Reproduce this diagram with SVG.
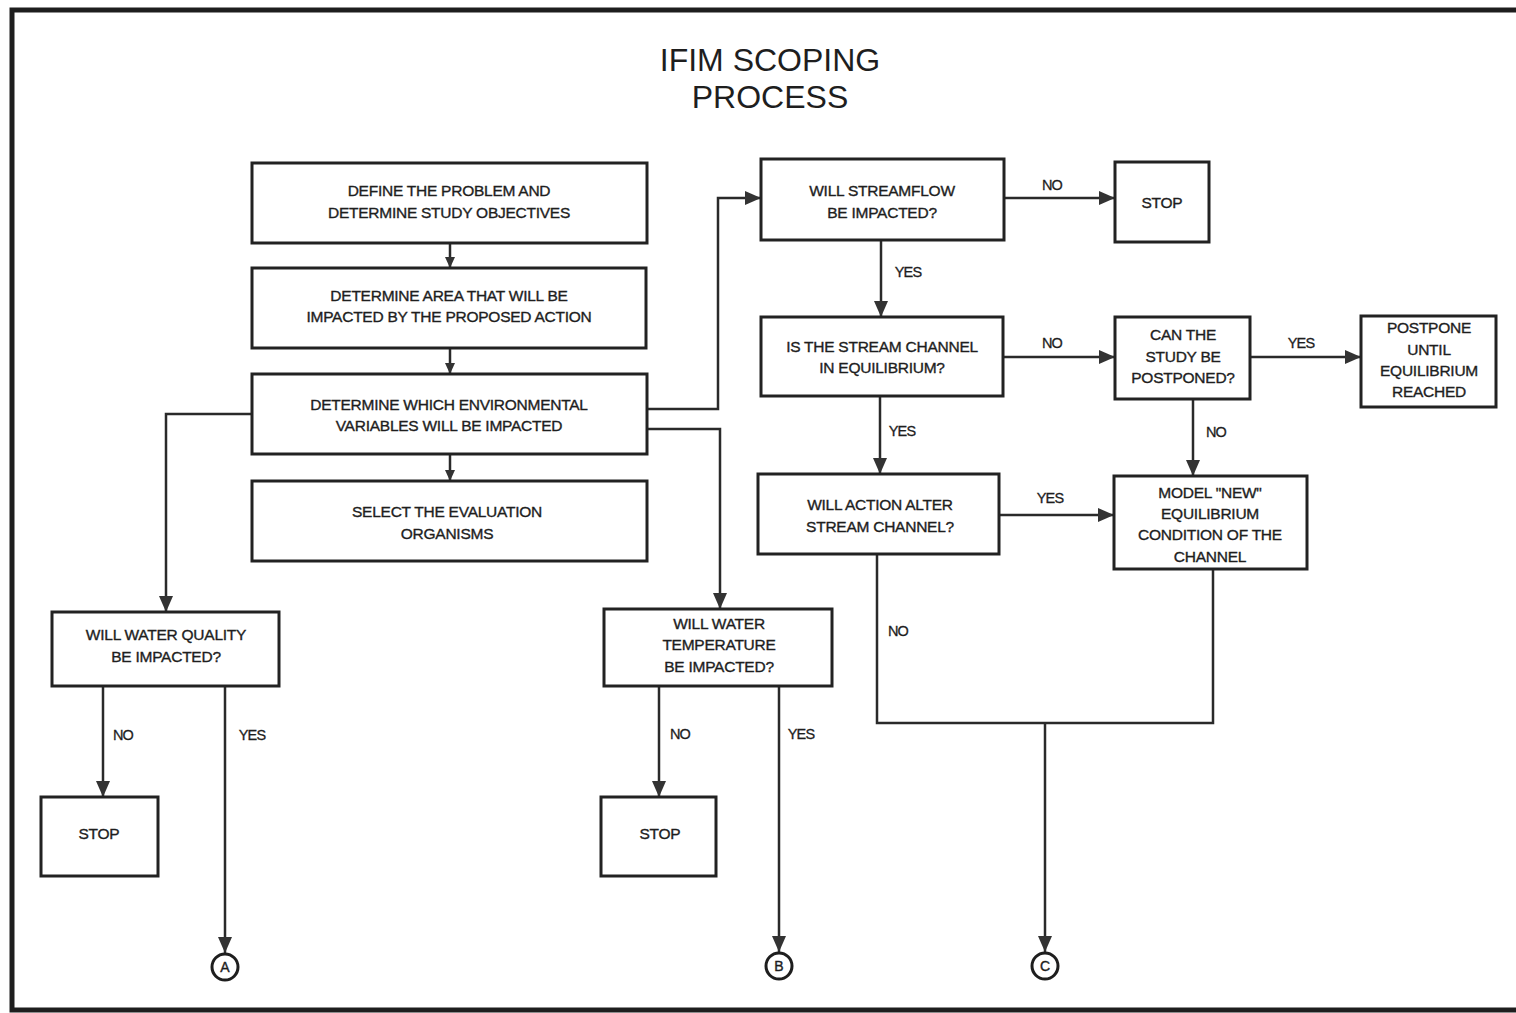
<svg xmlns="http://www.w3.org/2000/svg" width="1516" height="1013" viewBox="0 0 1516 1013">
<defs>
<style>
.frame{fill:none;stroke:#1e1e1e;stroke-width:5}
.box{fill:#fff;stroke:#222;stroke-width:3}
.t{font-family:"Liberation Sans",Arial,sans-serif;font-size:15.5px;fill:#1e1e1e;stroke:#1e1e1e;stroke-width:0.35;text-anchor:middle;letter-spacing:-0.25px}
.lbl{font-family:"Liberation Sans",Arial,sans-serif;font-size:14.5px;fill:#1e1e1e;stroke:#1e1e1e;stroke-width:0.3;text-anchor:middle;letter-spacing:-0.8px}
.title{font-family:"Liberation Sans",Arial,sans-serif;font-size:32px;fill:#1e1e1e;text-anchor:middle}
.c{fill:none;stroke:#2a2a2a;stroke-width:2.5}
.big{marker-end:url(#ab)}
.sm{marker-end:url(#as)}
.circ{fill:#fff;stroke:#1e1e1e;stroke-width:3}
.ct{font-family:"Liberation Sans",Arial,sans-serif;font-size:14px;fill:#1e1e1e;stroke:#1e1e1e;stroke-width:0.4;text-anchor:middle}
</style>
<marker id="ab" markerUnits="userSpaceOnUse" markerWidth="16" markerHeight="14" viewBox="0 0 16 14" refX="16" refY="7" orient="auto">
<path d="M0 0 L16 7 L0 14 Z" fill="#333"/>
</marker>
<marker id="as" markerUnits="userSpaceOnUse" markerWidth="11" markerHeight="10" viewBox="0 0 11 10" refX="11" refY="5" orient="auto">
<path d="M0 0 L11 5 L0 10 Z" fill="#333"/>
</marker>
</defs>
<rect width="1516" height="1013" fill="#fff"/>
<path class="frame" d="M1516 10 H12 V1010 H1516"/>
<g id="title">
<text class="title" x="770" y="71">IFIM SCOPING</text>
<text class="title" x="770" y="108">PROCESS</text>
</g>
<g id="connectors">
<path class="c sm" d="M450 243 V268"/>
<path class="c sm" d="M450 348 V374"/>
<path class="c sm" d="M450 454 V481"/>
<path class="c big" d="M647 409 H718 V198 H761"/>
<path class="c big" d="M647 429 H720 V609"/>
<path class="c big" d="M252 414 H166 V612"/>
<path class="c big" d="M103 686 V797"/>
<path class="c big" d="M225 686 V953"/>
<path class="c big" d="M659 686 V797"/>
<path class="c big" d="M779 686 V952"/>
<path class="c big" d="M1004 198 H1115"/>
<path class="c big" d="M881 240 V317"/>
<path class="c big" d="M1003 357 H1115"/>
<path class="c big" d="M1250 357 H1361"/>
<path class="c big" d="M1193 399 V476"/>
<path class="c big" d="M880 396 V474"/>
<path class="c big" d="M999 515 H1114"/>
<path class="c" d="M877 554 V723 H1213 V569"/>
<path class="c big" d="M1045 723 V952"/>
<text class="lbl" x="1052" y="190">NO</text>
<text class="lbl" x="908" y="277">YES</text>
<text class="lbl" x="1052" y="348">NO</text>
<text class="lbl" x="1301" y="348">YES</text>
<text class="lbl" x="1216" y="437">NO</text>
<text class="lbl" x="902" y="436">YES</text>
<text class="lbl" x="1050" y="503">YES</text>
<text class="lbl" x="898" y="636">NO</text>
<text class="lbl" x="123" y="740">NO</text>
<text class="lbl" x="252" y="740">YES</text>
<text class="lbl" x="680" y="739">NO</text>
<text class="lbl" x="801" y="739">YES</text>
</g>
<g id="define">
<rect class="box" x="252" y="163" width="395" height="80"/>
<text class="t" x="449" y="196">DEFINE THE PROBLEM AND</text>
<text class="t" x="449" y="218">DETERMINE STUDY OBJECTIVES</text>
</g>
<g id="area">
<rect class="box" x="252" y="268" width="394" height="80"/>
<text class="t" x="449" y="301">DETERMINE AREA THAT WILL BE</text>
<text class="t" x="449" y="322">IMPACTED BY THE PROPOSED ACTION</text>
</g>
<g id="variables">
<rect class="box" x="252" y="374" width="395" height="80"/>
<text class="t" x="449" y="410">DETERMINE WHICH ENVIRONMENTAL</text>
<text class="t" x="449" y="431">VARIABLES WILL BE IMPACTED</text>
</g>
<g id="organisms">
<rect class="box" x="252" y="481" width="395" height="80"/>
<text class="t" x="447" y="517">SELECT THE EVALUATION</text>
<text class="t" x="447" y="539">ORGANISMS</text>
</g>
<g id="streamflow">
<rect class="box" x="761" y="159" width="243" height="81"/>
<text class="t" x="882" y="196">WILL STREAMFLOW</text>
<text class="t" x="882" y="218">BE IMPACTED?</text>
</g>
<g id="stop1">
<rect class="box" x="1115" y="162" width="94" height="80"/>
<text class="t" x="1162" y="208">STOP</text>
</g>
<g id="equilibrium">
<rect class="box" x="761" y="317" width="242" height="79"/>
<text class="t" x="882" y="352">IS THE STREAM CHANNEL</text>
<text class="t" x="882" y="373">IN EQUILIBRIUM?</text>
</g>
<g id="postponed">
<rect class="box" x="1115" y="317" width="135" height="82"/>
<text class="t" x="1183" y="340">CAN THE</text>
<text class="t" x="1183" y="362">STUDY BE</text>
<text class="t" x="1183" y="383">POSTPONED?</text>
</g>
<g id="postpone">
<rect class="box" x="1361" y="316" width="135" height="91"/>
<text class="t" x="1429" y="333">POSTPONE</text>
<text class="t" x="1429" y="355">UNTIL</text>
<text class="t" x="1429" y="376">EQUILIBRIUM</text>
<text class="t" x="1429" y="397">REACHED</text>
</g>
<g id="alter">
<rect class="box" x="758" y="474" width="241" height="80"/>
<text class="t" x="880" y="510">WILL ACTION ALTER</text>
<text class="t" x="880" y="532">STREAM CHANNEL?</text>
</g>
<g id="model">
<rect class="box" x="1114" y="476" width="193" height="93"/>
<text class="t" x="1210" y="498">MODEL "NEW"</text>
<text class="t" x="1210" y="519">EQUILIBRIUM</text>
<text class="t" x="1210" y="540">CONDITION OF THE</text>
<text class="t" x="1210" y="562">CHANNEL</text>
</g>
<g id="quality">
<rect class="box" x="52" y="612" width="227" height="74"/>
<text class="t" x="166" y="640">WILL WATER QUALITY</text>
<text class="t" x="166" y="662">BE IMPACTED?</text>
</g>
<g id="stop2">
<rect class="box" x="41" y="797" width="117" height="79"/>
<text class="t" x="99" y="839">STOP</text>
</g>
<g id="temperature">
<rect class="box" x="604" y="609" width="228" height="77"/>
<text class="t" x="719" y="629">WILL WATER</text>
<text class="t" x="719" y="650">TEMPERATURE</text>
<text class="t" x="719" y="672">BE IMPACTED?</text>
</g>
<g id="stop3">
<rect class="box" x="601" y="797" width="115" height="79"/>
<text class="t" x="660" y="839">STOP</text>
</g>
<g id="connA">
<circle class="circ" cx="225" cy="967" r="13"/>
<text class="ct" x="225" y="972">A</text>
</g>
<g id="connB">
<circle class="circ" cx="779" cy="966" r="13"/>
<text class="ct" x="779" y="971">B</text>
</g>
<g id="connC">
<circle class="circ" cx="1045" cy="966" r="13"/>
<text class="ct" x="1045" y="971">C</text>
</g>
</svg>
